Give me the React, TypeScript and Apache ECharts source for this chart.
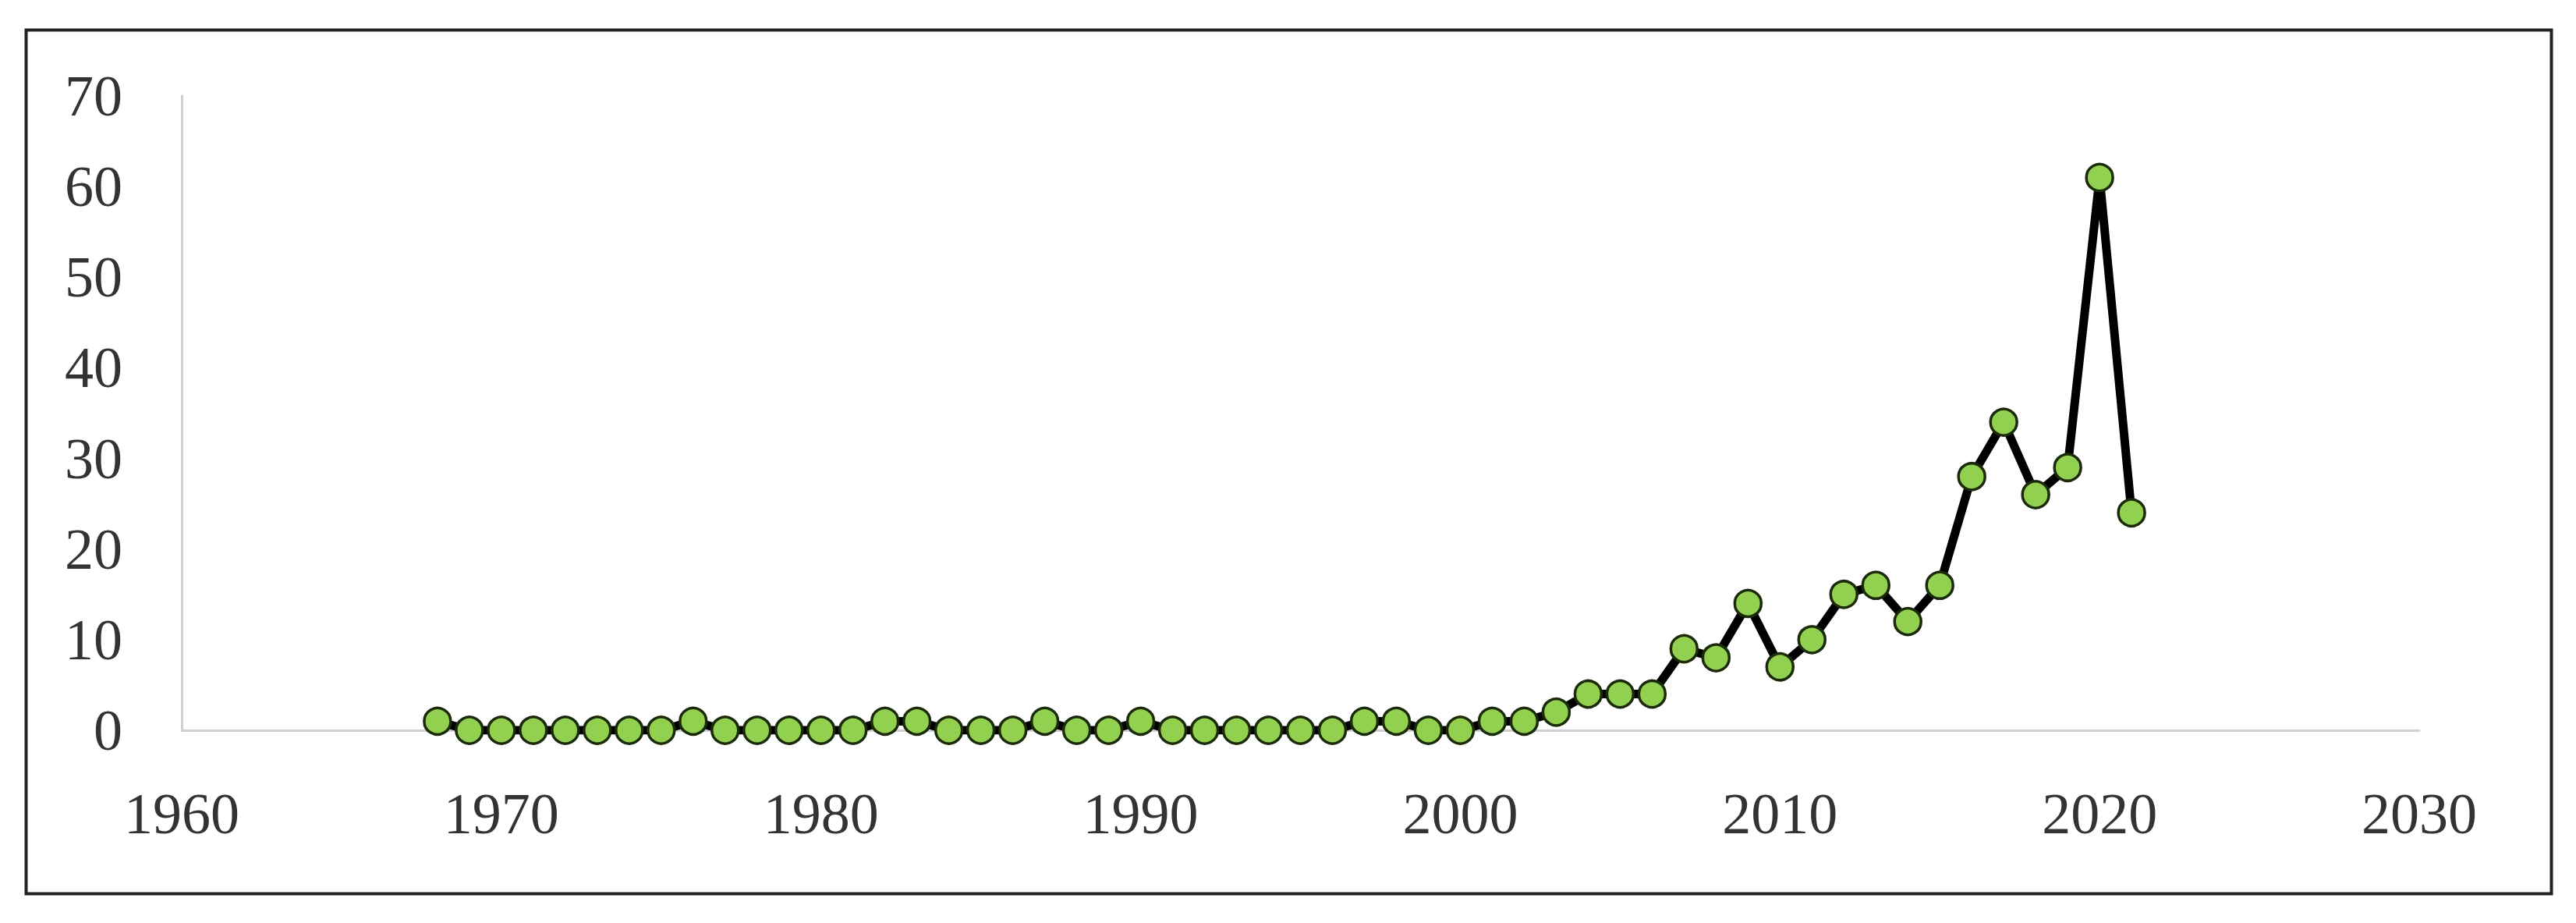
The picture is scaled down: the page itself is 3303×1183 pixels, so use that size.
import React, { useEffect, useRef } from "react";
import * as echarts from "echarts";

const years = [
  1968, 1969, 1970, 1971, 1972, 1973, 1974, 1975, 1976, 1977, 1978, 1979,
  1980, 1981, 1982, 1983, 1984, 1985, 1986, 1987, 1988, 1989, 1990, 1991,
  1992, 1993, 1994, 1995, 1996, 1997, 1998, 1999, 2000, 2001, 2002, 2003,
  2004, 2005, 2006, 2007, 2008, 2009, 2010, 2011, 2012, 2013, 2014, 2015,
  2016, 2017, 2018, 2019, 2020, 2021,
];
const counts = [
  1, 0, 0, 0, 0, 0, 0, 0, 1, 0, 0, 0,
  0, 0, 1, 1, 0, 0, 0, 1, 0, 0, 1, 0,
  0, 0, 0, 0, 0, 1, 1, 0, 0, 1, 1, 2,
  4, 4, 4, 9, 8, 14, 7, 10, 15, 16, 12, 16,
  28, 34, 26, 29, 61, 24,
];
const xTicks = { min: 1960, max: 2030, interval: 10 };
const yTicks = { min: 0, max: 70, interval: 10 };

export default function App() {
  const ref = useRef<HTMLDivElement>(null);
  useEffect(() => {
    if (!ref.current) return;
    const chart = echarts.init(ref.current, null, { renderer: "svg" });
    const labelStyle = {
      fontFamily: "Liberation Serif",
      fontSize: 74,
      color: "#333333",
      formatter: (v: number) => String(v),
    };
    chart.setOption({
      animation: false,
      backgroundColor: "#ffffff",
      graphic: [
        {
          type: "rect",
          left: 31,
          top: 36,
          shape: { width: 3238, height: 1107 },
          style: { fill: "none", stroke: "#222222", lineWidth: 4 },
          z: 0,
        },
      ],
      grid: { left: 233, right: 201, top: 123, bottom: 247, containLabel: false },
      xAxis: {
        type: "value",
        min: xTicks.min,
        max: xTicks.max,
        interval: xTicks.interval,
        axisLine: { show: true, lineStyle: { color: "#d0d0d0", width: 3 } },
        axisTick: { show: false },
        splitLine: { show: false },
        axisLabel: { ...labelStyle, margin: 70 },
      },
      yAxis: {
        type: "value",
        min: yTicks.min,
        max: yTicks.max,
        interval: yTicks.interval,
        axisLine: { show: true, lineStyle: { color: "#d0d0d0", width: 3 } },
        axisTick: { show: false },
        splitLine: { show: false },
        axisLabel: { ...labelStyle, margin: 76 },
      },
      series: [
        {
          type: "line",
          data: years.map((y, i) => [y, counts[i]]),
          symbol: "circle",
          symbolSize: 34,
          lineStyle: { color: "#000000", width: 11 },
          itemStyle: { color: "#92d050", borderColor: "#1a2a0a", borderWidth: 3.5 },
          z: 3,
        },
      ],
    });
    return () => chart.dispose();
  }, []);
  return (
    <div
      ref={ref}
      style={{ position: "absolute", left: 0, top: 0, width: 3303, height: 1183 }}
    />
  );
}
